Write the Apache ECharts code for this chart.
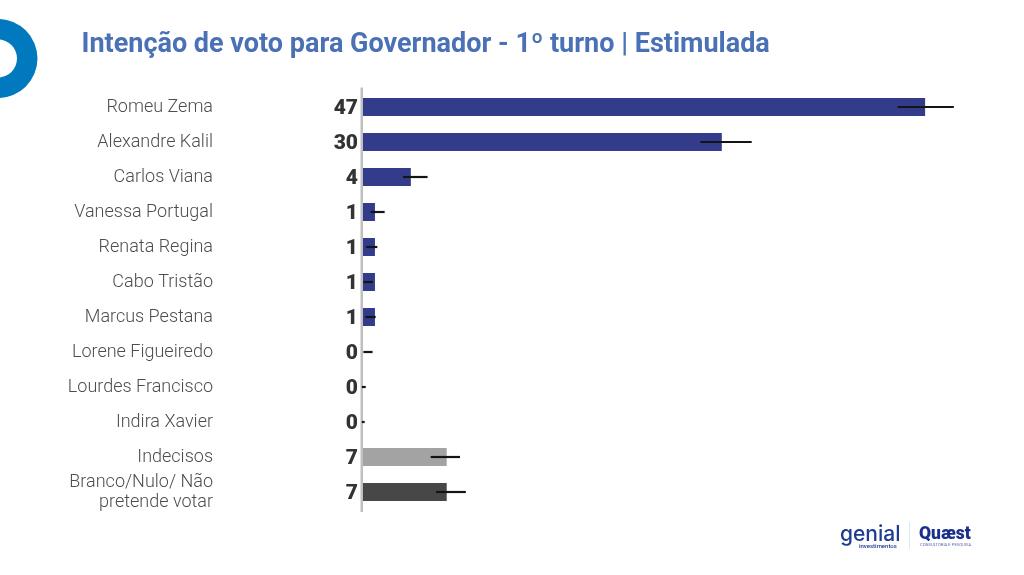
<!DOCTYPE html>
<html><head><meta charset="utf-8">
<style>html,body{margin:0;padding:0;background:#fff}#c{width:1024px;height:575px}</style>
<script src="https://cdn.jsdelivr.net/npm/echarts@6/dist/echarts.min.js"></script>
</head><body><div id="c"></div>
<script>
const categories = ["Romeu Zema","Alexandre Kalil","Carlos Viana","Vanessa Portugal","Renata Regina","Cabo Tristão","Marcus Pestana","Lorene Figueiredo","Lourdes Francisco","Indira Xavier","Indecisos","Branco/Nulo/ Não\npretende votar"];
const values = [47,30,4,1,1,1,1,0,0,0,7,7];
const errLow = [44.7,28.2,3.35,0.64,0.25,0.03,0.2,0.03,-0.1,-0.1,5.66,6.1];
const errHigh = [49.4,32.5,5.4,1.81,1.2,0.81,1.06,0.8,0.23,0.14,8.11,8.6];
const barColors = ["#333c8a","#333c8a","#333c8a","#333c8a","#333c8a","#333c8a","#333c8a","#333c8a","#333c8a","#333c8a","#a3a3a3","#474747"];
const title = "Intenção de voto para Governador - 1º turno | Estimulada";

const chart = echarts.init(document.getElementById('c'), null, {renderer:'canvas'});
chart.setOption({
  animation:false,
  backgroundColor:'#fff',
  title:{text:title,left:76.5,top:27,textStyle:{fontFamily:'Roboto',fontSize:27,fontWeight:700,color:'#4a70b5'}},
  grid:{left:363,top:89.5,width:657.8,height:420,containLabel:false},
  xAxis:{type:'value',min:0,max:55,show:false},
  yAxis:{type:'category',inverse:true,data:categories,
    axisLine:{show:false},axisTick:{show:false},
    axisLabel:{interval:0,hideOverlap:false,margin:150,fontFamily:'Roboto',fontSize:18,fontWeight:300,color:'#4d4d4d',lineHeight:20,align:'right',padding:[2,0,0,0]}},
  series:[
    {type:'bar',barWidth:18,z:3,
     data:values.map((v,i)=>({value:v,itemStyle:{color:barColors[i]}})),
     label:{show:true,position:'left',distance:5,offset:[0,2],fontFamily:'Roboto',fontSize:21,fontWeight:900,color:'#333'}},
    {type:'custom',z:5,clip:false,
     data:errLow.map((l,i)=>[l,errHigh[i],i]),
     encode:{x:[0,1],y:2},
     renderItem:(p,api)=>{
       const a=api.coord([api.value(0),api.value(2)]);
       const b=api.coord([api.value(1),api.value(2)]);
       return {type:'line',shape:{x1:a[0],y1:a[1],x2:b[0],y2:b[1]},style:{stroke:'#141414',lineWidth:2.2}};
     }}
  ],
  graphic:[
    {type:'ring',shape:{cx:-2,cy:58.5,r:39.5,r0:19},style:{fill:'#0079bf'},silent:true},
    {type:'rect',shape:{x:360.5,y:87.5,width:2.5,height:424.5},style:{fill:'#bfbfbf'},silent:true},
    {type:'text',style:{x:840,y:524,text:'genial',fontFamily:'Inter',fontSize:21,fontWeight:500,fill:'#1f3a93'},silent:true},
    {type:'text',style:{x:859,y:543,text:'investimentos',fontFamily:'Roboto',fontSize:6,fontWeight:500,fill:'#1f3a93'},silent:true},
    {type:'rect',shape:{x:909,y:522,width:1,height:27},style:{fill:'#cfeef2'},silent:true},
    {type:'text',style:{x:919,y:526,text:'Quæst',fontFamily:'Roboto',fontSize:17.5,fontWeight:900,fill:'#1a2f8a'},silent:true},
    {type:'text',style:{x:920,y:543,text:'CONSULTORIA E PESQUISA',fontFamily:'Roboto',fontSize:4.2,fill:'#5a6aa8'},silent:true}
  ]
});
</script></body></html>
